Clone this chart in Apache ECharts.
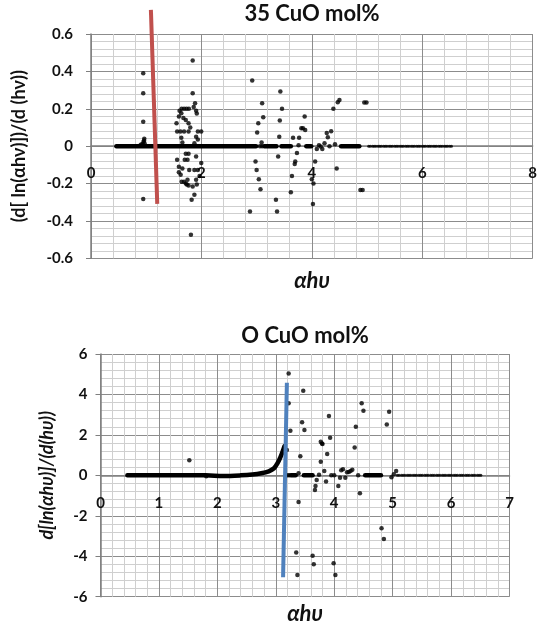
<!DOCTYPE html>
<html>
<head>
<meta charset="utf-8">
<script src="https://cdn.jsdelivr.net/npm/echarts@6/dist/echarts.min.js"></script>
<style>
	html, body { margin: 0; padding: 0; background: #fff; }
	#chart { width: 540px; height: 624px; }
</style>
</head>
<body>
<div id="chart"></div>
<script>
// ---- Daten oben: 35 CuO mol% ----
var topTitle = '35 CuO mol%';
var topYName = '(d[ ln(αhν)])/(d (hν))';
var topXTicks = [0, 2, 4, 6, 8];
var topXLabels = ['0', '2', '4', '6', '8'];
var topYTicks = [-0.6, -0.4, -0.2, 0, 0.2, 0.4, 0.6];
var topYLabels = ['-0.6', '-0.4', '-0.2', '0', '0.2', '0.4', '0.6'];

// einzelne Punkte [hv, Ableitung]
var topPoints = [
	[0.946, 0.39], [0.946, 0.283], [0.946, 0.131], [0.946, -0.283], [0.93, 0.012], [0.95, 0.022], [0.96, 0.03], [0.965, 0.04], [0.9, 0.008], [0.97, 0.015],
	[1.549, 0.123], [1.592, 0.158], [1.604, 0.19], [1.642, 0.2], [1.686, 0.2], [1.73, 0.2], [1.773, 0.2], [1.636, 0.176], [1.673, 0.15], [1.717, 0.14],
	[1.767, 0.123], [1.798, 0.1], [1.56, 0.078], [1.62, 0.078], [1.686, 0.078], [1.767, 0.078], [1.636, 0.045], [1.655, 0.02],
	[1.842, 0.458], [1.842, 0.283], [1.885, 0.23], [1.86, 0.21], [1.904, 0.19], [1.916, 0.175], [1.935, 0.078], [1.997, 0.078], [1.904, 0.05], [1.935, 0.035], [1.873, 0.015],
	[1.56, -0.073], [1.592, -0.11], [1.592, -0.14], [1.624, -0.153], [1.642, -0.19], [1.686, -0.19], [1.717, -0.2], [1.748, -0.18], [1.655, -0.12], [1.698, -0.073],
	[1.748, -0.073], [1.717, -0.04], [1.767, -0.04], [1.779, -0.127], [1.736, -0.205], [1.767, -0.21],
	[1.904, -0.055], [1.935, -0.127], [1.966, -0.16], [1.904, -0.18], [1.873, -0.127], [1.842, -0.216], [1.873, -0.26], [1.823, -0.287], [1.81, -0.474], [1.997, -0.09], [1.916, -0.205],
	[2.92, 0.351], [2.88, -0.35], [3.10, 0.23], [3.03, 0.123], [3.01, 0.073], [3.12, 0.154], [3.09, 0.02], [2.98, -0.082], [3.0, -0.127], [3.04, -0.177], [3.07, -0.23],
	[3.06, 0], [3.1, 0],
	[3.43, 0.292], [3.46, 0.2], [3.42, 0.137], [3.41, 0.05], [3.39, -0.055], [3.35, -0.287], [3.37, -0.35],
	[3.62, -0.246], [3.64, -0.16], [3.69, -0.095], [3.70, -0.082], [3.73, -0.037], [3.66, 0.045], [3.77, 0.045], [3.87, 0.158], [3.81, 0.096], [3.84, 0.096], [3.88, 0.087], [3.76, 0.005],
	[4.0, -0.177], [4.03, -0.2], [4.02, -0.309], [4.06, -0.082], [4.09, -0.015], [4.13, 0.005], [4.16, -0.002], [4.19, -0.015], [4.23, 0.015], [4.27, 0.07], [4.29, 0.048],
	[4.32, 0.0], [4.35, 0.08], [4.39, 0.2], [4.42, 0.01], [4.45, -0.12], [4.47, 0.235], [4.5, 0.247],
	[4.88, -0.234], [4.92, -0.234], [4.95, 0.233], [4.99, 0.233]
];
// dichte Punktreihen auf der Nulllinie [von, bis]
var topZeroRuns = [[0.46, 2.99], [3.14, 3.36], [3.45, 3.62], [3.9, 3.99], [4.53, 4.86]];
// lockere Punktreihe auf der Nulllinie (x-Werte)
var topDotsX = [5.03, 5.06, 5.10, 5.13, 5.16, 5.20, 5.23, 5.26, 5.30, 5.33, 5.36, 5.40, 5.43, 5.46, 5.50, 5.53, 5.56, 5.60, 5.63, 5.66, 5.70, 5.73, 5.76,
	5.80, 5.83, 5.86, 5.90, 5.93, 5.96, 6.00, 6.03, 6.06, 6.10, 6.13, 6.16, 6.20, 6.23, 6.26, 6.30, 6.33, 6.36, 6.40, 6.43, 6.46, 6.50, 6.53];
// rote Markierungslinie
var topMarkLine = [[1.085, 0.729], [1.2, -0.309]];

// ---- Daten unten: 0 CuO mol% ----
var bottomTitle = 'O CuO mol%';
var bottomYName = 'd[ln(αhυ)]/(d(hυ))';
var xName = 'αhυ';
var bottomXTicks = [0, 1, 2, 3, 4, 5, 6, 7];
var bottomXLabels = ['0', '1', '2', '3', '4', '5', '6', '7'];
var bottomYTicks = [-6, -4, -2, 0, 2, 4, 6];
var bottomYLabels = ['-6', '-4', '-2', '0', '2', '4', '6'];

var bottomPoints = [
	[3.22, 5.04], [3.22, 3.56], [3.47, 4.18], [3.45, 2.62], [3.49, 2.24], [3.25, 2.2], [3.19, 1.25], [3.42, 0.95], [3.39, -1.32], [3.35, -3.82], [3.37, -4.93],
	[3.63, -3.97], [3.65, -4.4], [3.99, -4.35], [4.02, -4.93], [3.91, 2.93], [3.93, 1.86], [3.77, 1.66], [3.79, 1.58], [3.8, 1.55], [3.88, 1.05], [3.77, 0.67],
	[3.83, 0.21], [3.86, -0.31], [3.68, -0.53], [3.67, -0.73], [3.7, -0.23], [3.74, 0.03], [4.07, -0.53], [4.1, -0.12], [4.12, 0.25], [4.15, 0.3], [4.19, -0.12],
	[4.22, 0.15], [4.25, 0.17], [4.28, 0.22], [4.31, 0.28], [4.35, 1.38], [4.37, 2.4], [4.47, 3.56], [4.5, 3.2], [4.44, -0.89], [4.41, 0], [4.9, 2.52], [4.94, 3.15],
	[4.81, -2.62], [4.85, -3.15], [4.98, -0.1], [5.02, 0.05], [5.06, 0.21], [3.95, 0], [4.0, 0], [1.52, 0.75], [1.81, -0.05], [3.39, 0.1], [3.2, 0], [3.23, 0]
];
// Kurve aus dicht liegenden Punkten
var bottomCurve = [[0.46, 0], [1.8, 0], [2.1, -0.03], [2.4, 0], [2.6, 0.04], [2.75, 0.1], [2.88, 0.2], [2.97, 0.35], [3.03, 0.6], [3.08, 0.9], [3.12, 1.2], [3.15, 1.45]];
var bottomZeroRuns = [[3.26, 3.34], [3.48, 3.63], [4.53, 4.8]];
var bottomDotsX = [5.08, 5.11, 5.15, 5.18, 5.21, 5.25, 5.28, 5.31, 5.35, 5.38, 5.41, 5.45, 5.48, 5.51, 5.55, 5.58, 5.61, 5.65, 5.68, 5.71, 5.75, 5.78,
	5.81, 5.85, 5.88, 5.91, 5.95, 5.98, 6.01, 6.05, 6.08, 6.11, 6.15, 6.18, 6.21, 6.25, 6.28, 6.31, 6.35, 6.38, 6.41, 6.45, 6.48, 6.51];
// blaue Markierungslinie
var bottomMarkLine = [[3.19, 4.58], [3.125, -5.04]];

var FONT = 'Lato, "Noto Sans", sans-serif';

// Raster (Pixel)
var grids = [
	{ left: 91, top: 34, width: 442.5, height: 224.3 },
	{ left: 100.5, top: 354, width: 409, height: 242.7 }
];

// Tick-Beschriftung aus den Arrays holen
function tickLabel(ticks, labels) {
	return function (v) {
		for (var i = 0; i < ticks.length; i++) {
			if (Math.abs(ticks[i] - v) < 1e-6) return labels[i];
		}
		return '';
	};
}

function xAxisFor(idx, ticks, labels, yTicks) {
	// x-Achse auf y = 0 schieben (onZero greift hier nicht für die Beschriftung)
	var yMin = yTicks[0], yMax = yTicks[yTicks.length - 1];
	var shift = -(0 - yMin) / (yMax - yMin) * grids[idx].height;
	return {
		type: 'value', gridIndex: idx, offset: shift,
		min: ticks[0], max: ticks[ticks.length - 1], interval: ticks[1] - ticks[0],
		axisLine: { onZero: false, lineStyle: { color: '#7f7f7f', width: 1.5 } },
		axisTick: { show: true, length: 4, lineStyle: { color: '#7f7f7f' } },
		axisLabel: { margin: 20, color: '#111', fontFamily: FONT, fontWeight: 'bold', fontSize: 15, formatter: tickLabel(ticks, labels) },
		splitLine: { show: true, lineStyle: { color: '#8c8c8c', width: 1 } },
		minorTick: { show: false, splitNumber: 5 },
		minorSplitLine: { show: true, lineStyle: { color: '#cfcfcf', width: 1 } }
	};
}

function yAxisFor(idx, ticks, labels, name, italic, gap, margin) {
	return {
		type: 'value', gridIndex: idx,
		min: ticks[0], max: ticks[ticks.length - 1], interval: ticks[1] - ticks[0],
		name: name, nameLocation: 'middle', nameGap: gap,
		nameTextStyle: { color: '#111', fontFamily: FONT, fontWeight: 'bold', fontStyle: italic ? 'italic' : 'normal', fontSize: 18 },
		axisLine: { show: true, onZero: false, lineStyle: { color: '#7f7f7f', width: 1.5 } },
		axisTick: { show: true, length: 5, lineStyle: { color: '#7f7f7f' } },
		axisLabel: { margin: margin, color: '#111', fontFamily: FONT, fontWeight: 'bold', fontSize: 15, formatter: tickLabel(ticks, labels) },
		splitLine: { show: true, lineStyle: { color: '#8c8c8c', width: 1 } },
		minorTick: { show: false, splitNumber: 5 },
		minorSplitLine: { show: true, lineStyle: { color: '#cfcfcf', width: 1 } }
	};
}

function zeroRunSeries(runs, idx) {
	return runs.map(function (r) {
		return {
			type: 'line', xAxisIndex: idx, yAxisIndex: idx, symbol: 'none',
			lineStyle: { color: '#000', width: 4.5, cap: 'round' },
			data: [[r[0], 0], [r[1], 0]]
		};
	});
}

function scatterSeries(data, idx, size) {
	return { type: 'scatter', xAxisIndex: idx, yAxisIndex: idx, symbolSize: size, itemStyle: { color: '#000' }, data: data };
}

function markSeries(data, idx, color) {
	return {
		type: 'line', xAxisIndex: idx, yAxisIndex: idx, symbol: 'none', clip: false, z: 10,
		lineStyle: { color: color, width: 4, cap: 'butt' },
		data: data
	};
}

function GenerateChart() {
	var chart = echarts.init(document.getElementById('chart'), null, { renderer: 'canvas' });

	var series = [];
	series = series.concat(zeroRunSeries(topZeroRuns, 0));
	series.push(scatterSeries(topPoints, 0, 4.5));
	series.push(scatterSeries(topDotsX.map(function (x) { return [x, 0]; }), 0, 3));
	series.push(markSeries(topMarkLine, 0, '#c0504d'));

	series.push({
		type: 'line', xAxisIndex: 1, yAxisIndex: 1, symbol: 'none', smooth: 0.3,
		lineStyle: { color: '#000', width: 4.5, cap: 'round' }, data: bottomCurve
	});
	series = series.concat(zeroRunSeries(bottomZeroRuns, 1));
	series.push(scatterSeries(bottomPoints, 1, 4.5));
	series.push(scatterSeries(bottomDotsX.map(function (x) { return [x, 0]; }), 1, 3));
	series.push(markSeries(bottomMarkLine, 1, '#4f81bd'));

	var titleStyle = { color: '#111', fontFamily: FONT, fontWeight: 'bold', fontSize: 22 };
	var xNameStyle = { color: '#111', fontFamily: FONT, fontWeight: 'bold', fontStyle: 'italic', fontSize: 22 };

	chart.setOption({
		animation: false,
		title: [
			{ text: topTitle, left: 312, top: 3, textAlign: 'center', textStyle: titleStyle, padding: 0 },
			{ text: xName, left: 312, top: 270, textAlign: 'center', textStyle: xNameStyle, padding: 0 },
			{ text: bottomTitle, left: 305, top: 325, textAlign: 'center', textStyle: titleStyle, padding: 0 },
			{ text: xName, left: 305, top: 603, textAlign: 'center', textStyle: xNameStyle, padding: 0 }
		],
		grid: grids,
		xAxis: [xAxisFor(0, topXTicks, topXLabels, topYTicks), xAxisFor(1, bottomXTicks, bottomXLabels, bottomYTicks)],
		yAxis: [
			yAxisFor(0, topYTicks, topYLabels, topYName, false, 63, 18),
			yAxisFor(1, bottomYTicks, bottomYLabels, bottomYName, true, 44, 13)
		],
		series: series
	});
}

GenerateChart();
</script>
</body>
</html>
